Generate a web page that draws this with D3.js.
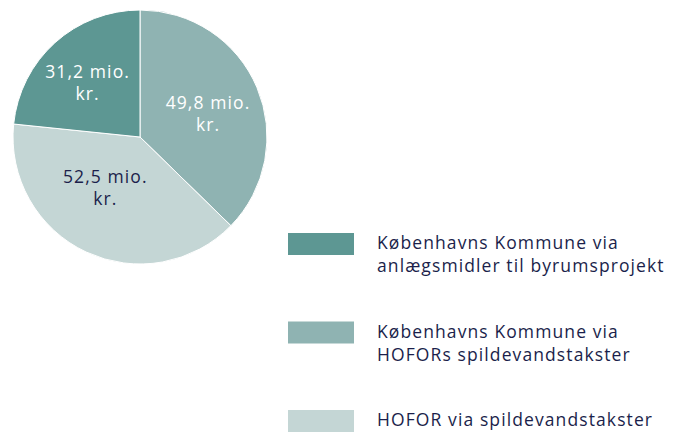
<!DOCTYPE html>
<html>
<head>
<meta charset="utf-8">
<script src="https://cdn.jsdelivr.net/npm/d3@7"></script>
<style>
  body { margin: 0; background: #fff; }
  svg text { font-family: "Open Sans", sans-serif; }
</style>
</head>
<body>
<svg width="680" height="432"></svg>
<script>
// slices, clockwise from 12 o'clock
var values = [49.8, 52.5, 31.2];
var labels = ["49,8 mio.", "52,5 mio.", "31,2 mio."];
var labelColors = ["#ffffff", "#1b1f4b", "#ffffff"];
var colors = ["#8fb3b2", "#c4d6d5", "#5d9793"];

// legend order (top to bottom), index into the arrays above
var legendOrder = [2, 0, 1];
var legendText = [
    ["Københavns Kommune via", "HOFORs spildevandstakster"],
    ["HOFOR via spildevandstakster"],
    ["Københavns Kommune via", "anlægsmidler til byrumsprojekt"]
];

var svg = d3.select("svg");
var CX = 140, CY = 137, R = 127;
// "best fit" nudges of the labels away from the centroid
var LABEL_NUDGE = [[3.5, 4.5], [-5, -12], [-5.5, -2.5]];

var pie = d3.pie().sort(null).value(d => d);
var arc = d3.arc().innerRadius(0).outerRadius(R);
var labelArc = d3.arc().innerRadius(70).outerRadius(70);

var g = svg.append("g")
    .attr("transform", "translate(" + CX + "," + CY + ")");

var arcs = pie(values);

g.selectAll("path")
    .data(arcs)
  .enter().append("path")
    .attr("d", arc)
    .attr("fill", (d, i) => colors[i])
    .attr("stroke", "#ffffff")
    .attr("stroke-width", 1);

var lbl = g.selectAll("text.lbl")
    .data(arcs)
  .enter().append("text")
    .attr("class", "lbl")
    .attr("text-anchor", "middle")
    .attr("font-size", 17.5)
    .attr("letter-spacing", 1.1)
    .attr("fill", (d, i) => labelColors[i])
    .attr("transform", (d, i) => {
        var c = labelArc.centroid(d);
        return "translate(" + (c[0] + LABEL_NUDGE[i][0]) + "," + (c[1] + LABEL_NUDGE[i][1]) + ")";
    });

lbl.append("tspan")
    .attr("x", 0)
    .attr("y", -5)
    .text((d, i) => labels[i]);
lbl.append("tspan")
    .attr("x", 0)
    .attr("y", 17)
    .text("kr.");

// legend
var y = d3.scalePoint()
    .domain(legendOrder)
    .range([233, 410]);

var leg = svg.selectAll("g.legend")
    .data(legendOrder)
  .enter().append("g")
    .attr("class", "legend")
    .attr("transform", d => "translate(288," + y(d) + ")");

leg.append("rect")
    .attr("width", 66)
    .attr("height", 22)
    .attr("fill", d => colors[d]);

leg.append("text")
    .attr("font-size", 17.5)
    .attr("letter-spacing", 1.1)
    .attr("fill", "#1b1f4b")
    .selectAll("tspan")
    .data(d => legendText[d])
  .enter().append("tspan")
    .attr("x", 89)
    .attr("y", (d, i) => 16 + i * 23)
    .text(d => d);
</script>
</body>
</html>
